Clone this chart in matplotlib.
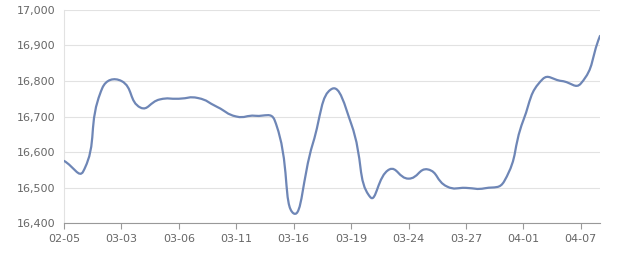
import numpy as np
import matplotlib
matplotlib.use("Agg")
import matplotlib.pyplot as plt
from matplotlib.path import Path
from matplotlib.patches import PathPatch

dates = ["02-05", "02-28", "03-02", "03-03", "03-04", "03-05", "03-06", "03-09",
         "03-10", "03-11", "03-12", "03-13", "03-16", "03-17", "03-18", "03-19",
         "03-20", "03-23", "03-24", "03-25", "03-26", "03-27", "03-30", "03-31",
         "04-01", "04-02", "04-03", "04-07", "04-08"]
prices = [16575, 16545, 16780, 16800, 16725, 16748, 16750, 16752,
          16727, 16700, 16702, 16690, 16427, 16624, 16778, 16680,
          16473, 16551, 16525, 16551, 16503, 16499, 16498, 16518,
          16690, 16805, 16800, 16793, 16927]
yticks = [16400, 16500, 16600, 16700, 16800, 16900, 17000]

fig = plt.figure(figsize=(6.4, 2.7), dpi=100)
ax = fig.add_axes([0.1, 0.174, 0.8375, 0.789])

x = np.arange(len(prices), dtype=float)
y = np.array(prices, dtype=float)

# echarts-like smooth line (bezier control points computed in pixel space)
sx, sy = 19.2, 0.3545
px, py = x * sx, y * sy
n = len(x)
cp0 = np.zeros((n, 2))
cp1 = np.zeros((n, 2))
smooth = 0.5
for i in range(n):
    p = np.array([px[i], py[i]])
    prev = np.array([px[max(i - 1, 0)], py[max(i - 1, 0)]])
    nxt = np.array([px[min(i + 1, n - 1)], py[min(i + 1, n - 1)]])
    v = (nxt - prev) * smooth
    d0 = np.hypot(*(p - prev))
    d1 = np.hypot(*(nxt - p))
    r = d1 / (d0 + d1) if d0 + d1 > 0 else 0.5
    cp0[i] = p - v * (1 - r)
    cp1[i] = p + v * r

verts = [(x[0], y[0])]
codes = [Path.MOVETO]
for i in range(n - 1):
    verts.append((cp1[i][0] / sx, cp1[i][1] / sy))
    verts.append((cp0[i + 1][0] / sx, cp0[i + 1][1] / sy))
    verts.append((x[i + 1], y[i + 1]))
    codes += [Path.CURVE4] * 3
ax.add_patch(PathPatch(Path(verts, codes), fill=False, edgecolor="#6e86b6",
                       linewidth=1.6, capstyle="round", joinstyle="round", zorder=3))

ax.set_xlim(0, n - 1)
ax.set_ylim(16400, 17000)
ax.set_yticks(yticks)
ax.set_yticklabels([f"{t:,}" for t in yticks])
ax.set_xticks(x[::3])
ax.set_xticklabels(dates[::3])
ax.grid(axis="y", color="#e2e2e2", linewidth=0.8)
ax.set_axisbelow(True)

for s in ["top", "right"]:
    ax.spines[s].set_visible(False)
ax.spines["left"].set_color("#e2e2e2")
ax.spines["bottom"].set_color("#999999")
ax.tick_params(axis="y", length=0, colors="#666666", labelsize=8, pad=6)
ax.tick_params(axis="x", length=4, color="#999999", colors="#666666", labelsize=8, pad=4)
for lbl in ax.get_yticklabels():
    lbl.set_color("#666666")

fig.savefig("out.png", dpi=100)
